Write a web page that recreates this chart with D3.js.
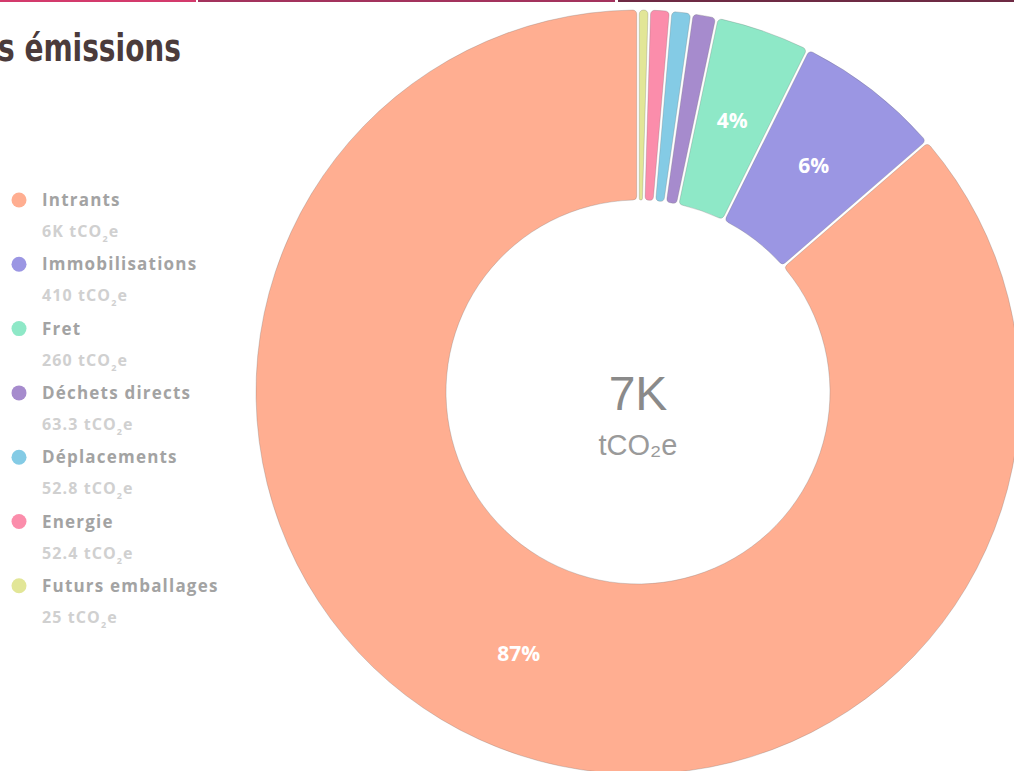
<!DOCTYPE html>
<html>
<head>
<meta charset="utf-8">
<script src="https://cdn.jsdelivr.net/npm/d3@7"></script>
<style>
  html, body { margin: 0; padding: 0; background: #fff; overflow: hidden; }
  svg { display: block; }
</style>
</head>
<body>
<div id="chart"></div>
<script>
// emission categories, legend order (largest first)
var categories = ["Intrants", "Immobilisations", "Fret", "Déchets directs", "Déplacements", "Energie", "Futurs emballages"]
var values = [5700, 410, 260, 63.3, 52.8, 52.4, 25]
var valueLabels = ["6K", "410", "260", "63.3", "52.8", "52.4", "25"]
var colors = ["#ffae91", "#9b96e3", "#8ee8c7", "#a68bcd", "#84cbe5", "#fb8dab", "#e2e697"]
var totalLabel = "7K"
var unit = "tCO"
var title = "s émissions"

// thin bars along the top edge
var topBars = [
  {x0: 0, x1: 196, color: "#d33a6c"},
  {x0: 198, x1: 615, color: "#a3325d"},
  {x0: 618, x1: 1014, color: "#6e2a44"}
]

var width = 1014, height = 771
var cx = 638, cy = 392
var outerR = 382, innerR = 192

var svg = d3.select("#chart").append("svg")
  .attr("width", width)
  .attr("height", height)

svg.selectAll("rect.topbar")
  .data(topBars)
  .enter().append("rect")
  .attr("class", "topbar")
  .attr("x", function(d) { return d.x0 })
  .attr("y", 0)
  .attr("width", function(d) { return d.x1 - d.x0 })
  .attr("height", 2)
  .attr("fill", function(d) { return d.color })

// title is cut at the left edge, as in the source page
svg.append("text")
  .attr("x", 181)
  .attr("y", 61)
  .attr("text-anchor", "end")
  .attr("font-family", "'Liberation Sans Narrow', 'DejaVu Sans Condensed', 'Roboto Condensed', sans-serif")
  .attr("font-weight", 700)
  .attr("font-size", 37)
  .attr("textLength", 183)
  .attr("lengthAdjust", "spacingAndGlyphs")
  .attr("fill", "#4b3b3b")
  .text(title)

var data = categories.map(function(c, i) {
  return {label: c, value: values[i], valueLabel: valueLabels[i], color: colors[i]}
})
var total = d3.sum(values)

var pie = d3.pie()
  .sort(function(a, b) { return a.value - b.value })
  .value(function(d) { return d.value })
  .padAngle(0.006)

var arc = d3.arc()
  .innerRadius(innerR)
  .outerRadius(outerR)
  .cornerRadius(4)

var g = svg.append("g").attr("transform", "translate(" + cx + "," + cy + ")")

var arcs = pie(data)

g.selectAll("path.slice")
  .data(arcs)
  .enter().append("path")
  .attr("class", "slice")
  .attr("d", arc)
  .attr("fill", function(d) { return d.data.color })
  .attr("stroke", "rgba(110,110,110,0.35)")
  .attr("stroke-width", 0.8)

var pct = d3.format(".0%")
g.selectAll("text.pct")
  .data(arcs.filter(function(d) { return d.data.value / total >= 0.03 }))
  .enter().append("text")
  .attr("class", "pct")
  .attr("transform", function(d) { return "translate(" + arc.centroid(d) + ")" })
  .attr("dy", "0.36em")
  .attr("text-anchor", "middle")
  .attr("font-family", "'Open Sans', sans-serif")
  .attr("font-weight", 700)
  .attr("font-size", 21)
  .attr("fill", "#fff")
  .text(function(d) { return pct(d.data.value / total) })

// centre total
g.append("text")
  .attr("y", 18)
  .attr("text-anchor", "middle")
  .attr("font-family", "'Liberation Sans', Arial, sans-serif")
  .attr("font-size", 48)
  .attr("fill", "#8a8a8a")
  .text(totalLabel)

g.append("text")
  .attr("y", 63)
  .attr("text-anchor", "middle")
  .attr("font-family", "'Liberation Sans', Arial, sans-serif")
  .attr("font-size", 29)
  .attr("fill", "#9a9a9a")
  .text(unit + "₂e")

// legend
var legend = svg.append("g").attr("class", "legend")
var rowStep = 64.3

var row = legend.selectAll("g.row")
  .data(data)
  .enter().append("g")
  .attr("class", "row")
  .attr("transform", function(d, i) { return "translate(0," + (200 + i * rowStep) + ")" })

row.append("circle")
  .attr("cx", 19)
  .attr("cy", 0)
  .attr("r", 7.5)
  .attr("fill", function(d) { return d.color })

row.append("text")
  .attr("x", 42)
  .attr("y", 6)
  .attr("font-family", "'Open Sans', sans-serif")
  .attr("font-weight", 700)
  .attr("font-size", 17)
  .attr("letter-spacing", 1.2)
  .attr("fill", "#a3a3a3")
  .text(function(d) { return d.label })

var val = row.append("text")
  .attr("x", 42)
  .attr("y", 37)
  .attr("font-family", "'Open Sans', sans-serif")
  .attr("font-weight", 700)
  .attr("font-size", 16)
  .attr("letter-spacing", 1.1)
  .attr("fill", "#d0d0d0")
val.append("tspan").text(function(d) { return d.valueLabel + " " + unit })
val.append("tspan").attr("dy", 5).attr("font-size", 9).text("2")
val.append("tspan").attr("dy", -5).text("e")
</script>
</body>
</html>
